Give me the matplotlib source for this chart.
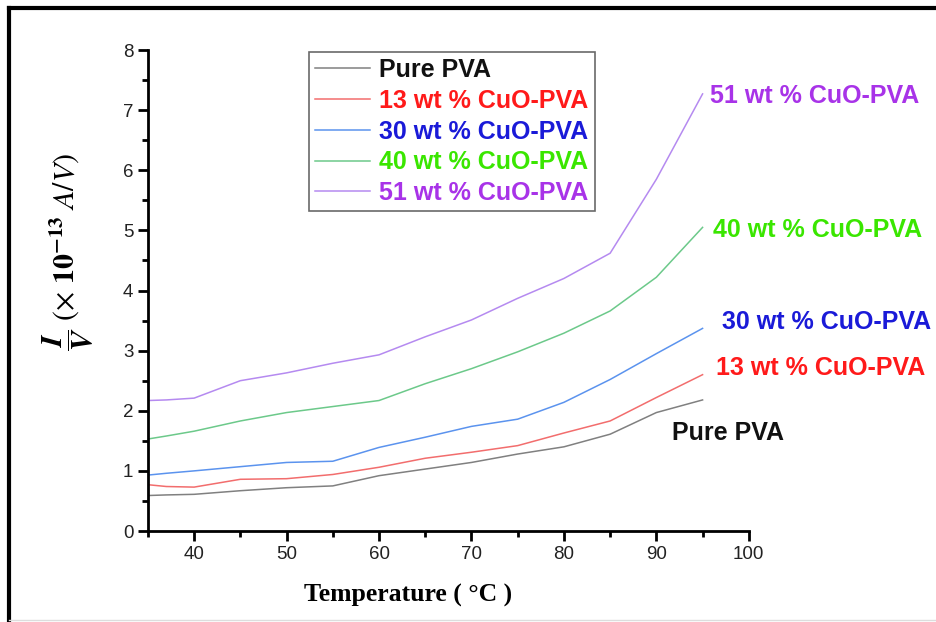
import matplotlib.pyplot as plt
from matplotlib.lines import Line2D
from matplotlib.ticker import MultipleLocator

temp = [35, 37, 40, 45, 50, 55, 60, 65, 70, 75, 80, 85, 90, 95]
pure = [0.59, 0.60, 0.61, 0.67, 0.72, 0.75, 0.92, 1.03, 1.14, 1.28, 1.40, 1.61, 1.97, 2.18]
cuo13 = [0.77, 0.74, 0.73, 0.86, 0.87, 0.94, 1.06, 1.21, 1.31, 1.42, 1.63, 1.83, 2.22, 2.60]
cuo30 = [0.93, 0.96, 1.00, 1.07, 1.14, 1.16, 1.39, 1.56, 1.74, 1.86, 2.14, 2.52, 2.95, 3.37]
cuo40 = [1.53, 1.58, 1.66, 1.83, 1.97, 2.07, 2.17, 2.45, 2.70, 2.98, 3.29, 3.66, 4.22, 5.05]
cuo51 = [2.17, 2.18, 2.21, 2.50, 2.63, 2.79, 2.93, 3.23, 3.51, 3.87, 4.20, 4.62, 5.85, 7.27]

labels = ['Pure PVA', '13 wt % CuO-PVA', '30 wt % CuO-PVA', '40 wt % CuO-PVA', '51 wt % CuO-PVA']
series = [pure, cuo13, cuo30, cuo40, cuo51]
line_colors = ['#808080', '#f26d6d', '#5b93ee', '#6cc98a', '#b58af0']
text_colors = ['#111111', '#ff1a1a', '#1a1ad8', '#3ae600', '#a833e8']
# where the curve labels sit (data coords)
label_x = [91.7, 96.5, 97.1, 96.1, 95.8]
label_y = [1.63, 2.71, 3.48, 5.01, 7.24]

plt.rcParams['font.family'] = ['Liberation Sans', 'DejaVu Sans']
plt.rcParams['mathtext.fontset'] = 'stix'

fig = plt.figure(figsize=(9.36, 6.22), dpi=100)
ax = fig.add_axes([0.158, 0.1463, 0.642, 0.7733])

for ys, lab, c in zip(series, labels, line_colors):
    ax.plot(temp, ys, color=c, lw=1.1, label=lab)

for lab, tx, ty, tc in zip(labels, label_x, label_y, text_colors):
    ax.text(tx, ty, lab, color=tc, fontsize=18, fontweight='bold', va='center', ha='left')

ax.set_xlim(35, 100)
ax.set_ylim(0, 8)
ax.xaxis.set_major_locator(MultipleLocator(10))
ax.xaxis.set_minor_locator(MultipleLocator(5))
ax.yaxis.set_major_locator(MultipleLocator(1))
ax.yaxis.set_minor_locator(MultipleLocator(0.5))
ax.set_xticks([40, 50, 60, 70, 80, 90, 100])
ax.spines['top'].set_visible(False)
ax.spines['right'].set_visible(False)
for s in ['left', 'bottom']:
    ax.spines[s].set_linewidth(2)
ax.tick_params(which='major', direction='out', length=7, width=2, labelsize=13.5, labelcolor='#222222')
ax.tick_params(which='minor', direction='out', length=4, width=2)

ax.set_xlabel('Temperature ( °C )', family='Liberation Serif', fontweight='bold', fontsize=18.5)
ax.xaxis.set_label_coords(0.433, -0.133)
ax.xaxis.label.set_va('center')
ax.set_ylabel(r'$\dfrac{\boldsymbol{I}}{\boldsymbol{V}}\ (\times\ \mathbf{10^{-13}}\ A/V)$', fontsize=21.5)
ax.yaxis.set_label_coords(-0.132, 0.58)
ax.yaxis.label.set_va('center')

leg = ax.legend(loc='upper left', bbox_to_anchor=(0.268, 0.996), borderaxespad=0, fontsize=18,
                handlelength=2.2, frameon=True, fancybox=False, edgecolor='#444444', borderpad=0.25,
                labelspacing=0.27, handletextpad=0.36)
leg.get_frame().set_linewidth(1.2)
for t, c in zip(leg.get_texts(), text_colors):
    t.set_color(c)
    t.set_fontweight('bold')

# outer frame of the original figure
fig.add_artist(Line2D([9 / 936, 9 / 936], [0, 1 - 8 / 622], color='black', lw=3, transform=fig.transFigure))
fig.add_artist(Line2D([9 / 936, 1], [1 - 8 / 622, 1 - 8 / 622], color='black', lw=3, transform=fig.transFigure))
fig.add_artist(Line2D([9 / 936, 1], [2 / 622, 2 / 622], color='#dddddd', lw=1, transform=fig.transFigure))

fig.savefig('out.png', dpi=100)
